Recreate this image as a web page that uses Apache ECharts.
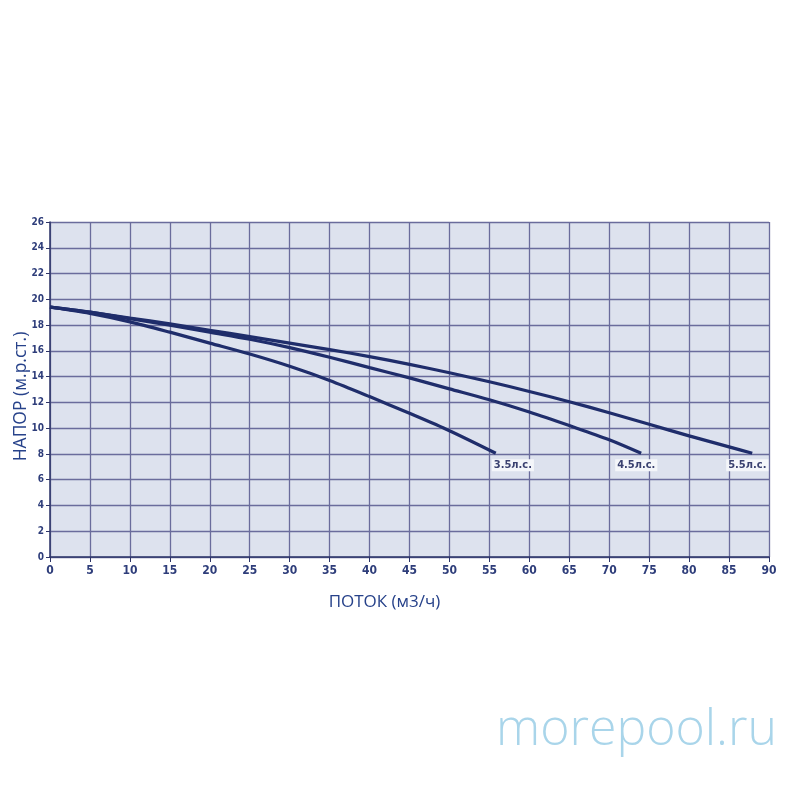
<!DOCTYPE html>
<html>
<head>
<meta charset="utf-8">
<script src="https://cdn.jsdelivr.net/npm/echarts@6/dist/echarts.min.js"></script>
<style>html,body{margin:0;padding:0;background:#fff}#c{width:800px;height:800px}</style>
</head>
<body>
<div id="c"></div>
<script>
const xTicks = [0,5,10,15,20,25,30,35,40,45,50,55,60,65,70,75,80,85,90];
const yTicks = [0,2,4,6,8,10,12,14,16,18,20,22,24,26];

const flow35 = [0,5,10,15,20,25,30,35,40,45,50,55.8];
const head35 = [19.4,18.9,18.25,17.45,16.6,15.75,14.8,13.7,12.45,11.15,9.8,8.05];

const flow45 = [0,5,10,15,20,25,30,35,40,45,50,55,60,65,70,74];
const head45 = [19.4,19.0,18.5,18.0,17.45,16.9,16.25,15.5,14.7,13.9,13.05,12.2,11.25,10.2,9.1,8.05];

const flow55 = [0,5,10,15,20,25,30,35,40,45,50,55,60,65,70,75,80,85,87.9];
const head55 = [19.4,19.0,18.55,18.1,17.6,17.1,16.6,16.1,15.55,14.95,14.3,13.6,12.85,12.05,11.2,10.3,9.4,8.55,8.05];

const seriesNames = ['3.5л.с.','4.5л.с.','5.5л.с.'];
const labelOffsets = [[-4,12],[-26,12],[-26,12]];

const xName = 'ПОТОК (м3/ч)';
const yName = 'НАПОР (м.р.ст.)';
const watermark = 'morepool.ru';

function pairs(xs, ys){ return xs.map((x,i)=>[x, ys[i]]); }

const lineColor = '#1f2d6b';
const datasets = [pairs(flow35, head35), pairs(flow45, head45), pairs(flow55, head55)];

const tickFont = '"Liberation Sans Narrow", "DejaVu Sans Condensed", sans-serif';

const series = datasets.map((d, k) => ({
  name: seriesNames[k],
  type: 'line',
  smooth: 0.3,
  showSymbol: false,
  symbol: 'none',
  lineStyle: { color: lineColor, width: 3.2 },
  endLabel: {
    show: true,
    formatter: seriesNames[k],
    distance: 0,
    offset: labelOffsets[k],
    fontFamily: 'DejaVu Sans Condensed',
    fontWeight: 'bold',
    fontSize: 11,
    color: '#3a4170',
    backgroundColor: '#f4f6fa',
    padding: [1, 2, 0, 2]
  },
  data: d,
  z: 5
}));

const chart = echarts.init(document.getElementById('c'), null, { renderer: 'canvas' });
chart.setOption({
  animation: false,
  backgroundColor: '#ffffff',
  grid: { left: 50, right: 31, top: 222, bottom: 243, show: true, backgroundColor: '#dde2ee', borderWidth: 0,
    containLabel: false, outerBoundsMode: 'none' },
  xAxis: {
    type: 'value', min: 0, max: 90, interval: 5,
    name: xName, nameLocation: 'middle', nameGap: 37,
    nameTextStyle: { fontFamily: 'Open Sans', fontSize: 17, color: '#27428a', padding: [0, 50, 0, 0] },
    axisLine: { show: true, lineStyle: { color: '#2d3468', width: 1.5 } },
    axisTick: { show: true, length: 5, lineStyle: { color: '#2d3468' } },
    axisLabel: { fontFamily: tickFont, fontWeight: 'bold', fontSize: 12, color: '#2e3d7a', margin: 8,
      formatter: v => xTicks.includes(v) ? String(v) : '' },
    splitLine: { show: true, lineStyle: { color: '#6a6c9c', width: 1.3 } }
  },
  yAxis: {
    type: 'value', min: 0, max: 26, interval: 2,
    name: yName, nameLocation: 'middle', nameGap: 20, nameRotate: 90, nameMoveOverlap: false,
    nameTextStyle: { fontFamily: 'Open Sans', fontSize: 17.5, color: '#27428a', padding: [0, 14, 0, 0] },
    axisLine: { show: true, lineStyle: { color: '#2d3468', width: 1.5 } },
    axisTick: { show: true, length: 4, lineStyle: { color: '#2d3468' } },
    axisLabel: { fontFamily: tickFont, fontWeight: 'bold', fontSize: 10, color: '#2e3d7a', margin: 6,
      formatter: v => yTicks.includes(v) ? String(v) : '' },
    splitLine: { show: true, lineStyle: { color: '#6a6c9c', width: 1.3 } }
  },
  graphic: [{
    type: 'text', left: 496, top: 706,
    style: { text: watermark, font: '300 50px "Open Sans"', fill: '#a9d5ea' }
  }],
  series: series
});
</script>
</body>
</html>
